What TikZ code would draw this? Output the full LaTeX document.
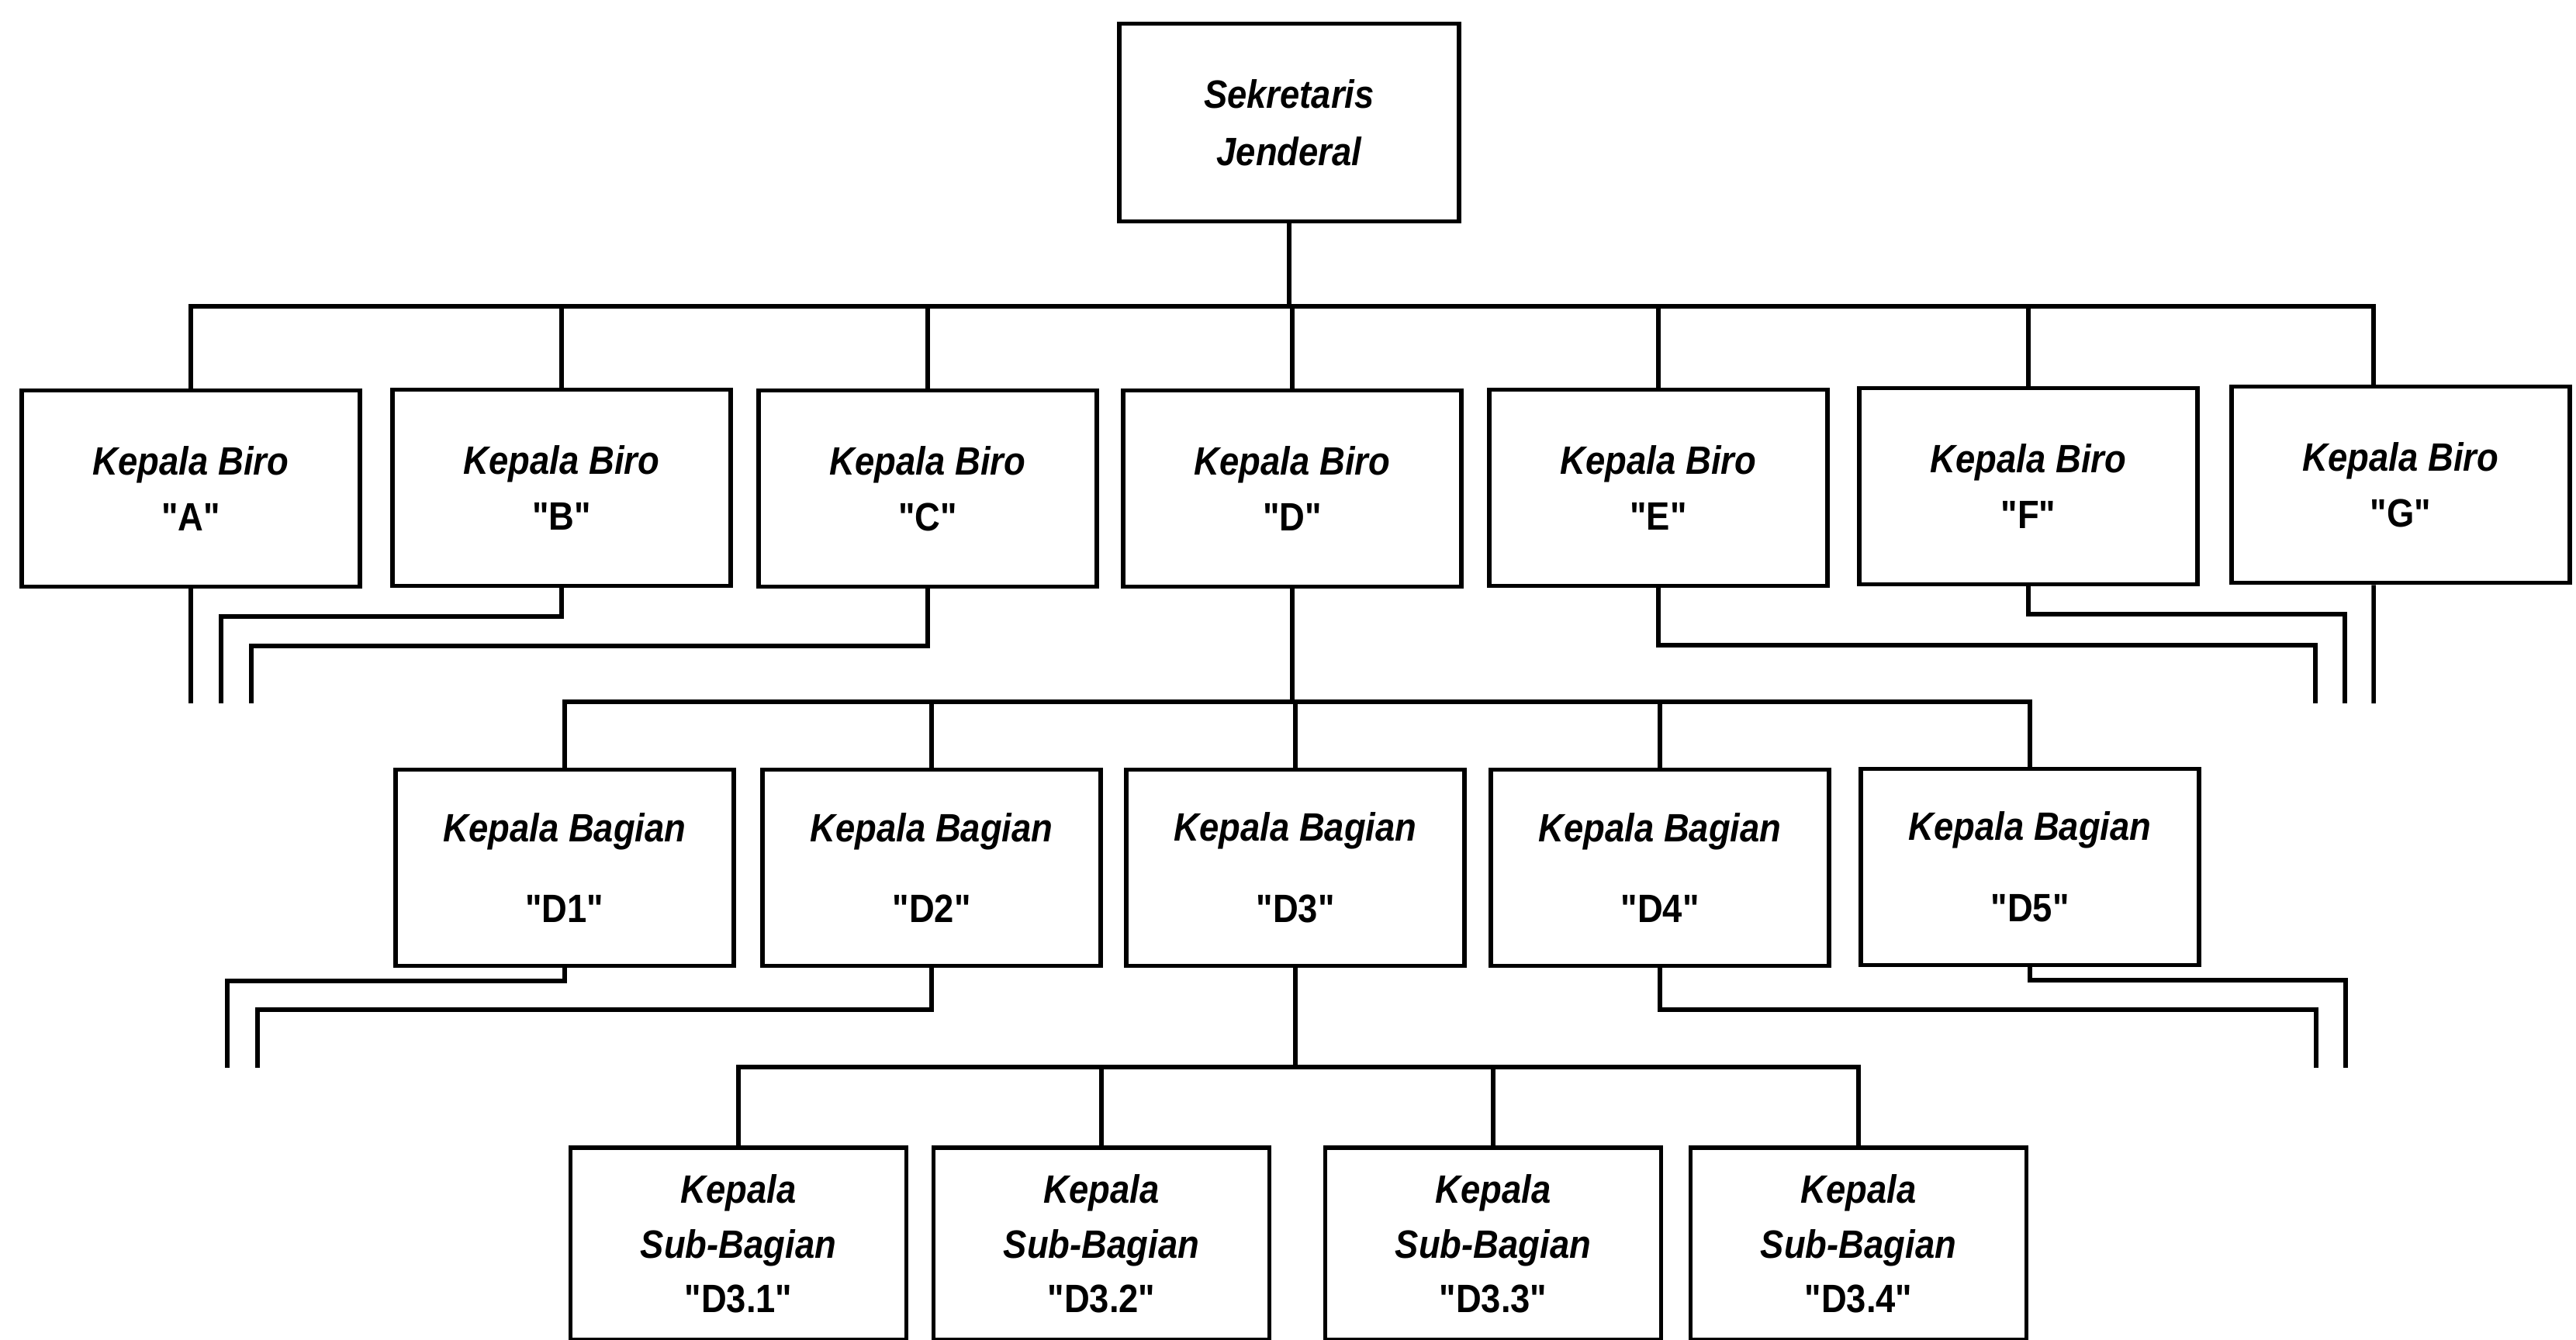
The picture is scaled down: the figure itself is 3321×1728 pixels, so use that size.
\documentclass[tikz,border=0pt]{standalone}
\usepackage{fontspec}
\newfontfamily\orgfont{Liberation Sans}[FakeStretch=0.89]
\begin{document}
\begin{tikzpicture}[x=0.01cm,y=-0.01cm,
  ln/.style={line width=0.055cm, line join=miter},
  box/.style={draw, line width=0.055cm, inner sep=0pt, align=center,
    minimum width=4.36cm, minimum height=2.53cm},
  subbox/.style={box, minimum width=4.33cm, minimum height=2.48cm},
  ft/.style={font=\orgfont\bfseries\itshape\fontsize{14.5}{#1}\selectfont}]
\useasboundingbox (0,0) rectangle (3321,1728);

% top
\node[box, ft=21, minimum width=4.38cm, minimum height=2.55cm] (sj) at (1662,158) {Sekretaris\\Jenderal};

% row 1
\node[box, ft=20.5] (A) at (246,630) {Kepala Biro\\\upshape"A"};
\node[box, ft=20.5] (B) at (724,629) {Kepala Biro\\\upshape"B"};
\node[box, ft=20.5] (C) at (1196,630) {Kepala Biro\\\upshape"C"};
\node[box, ft=20.5] (D) at (1666,630) {Kepala Biro\\\upshape"D"};
\node[box, ft=20.5] (E) at (2138,629) {Kepala Biro\\\upshape"E"};
\node[box, ft=20.5] (F) at (2615,627) {Kepala Biro\\\upshape"F"};
\node[box, ft=20.5] (G) at (3095,625) {Kepala Biro\\\upshape"G"};

% row 2
\node[box, ft=29.8] (D1) at (728,1119) {Kepala Bagian\\\upshape"D1"};
\node[box, ft=29.8] (D2) at (1201,1119) {Kepala Bagian\\\upshape"D2"};
\node[box, ft=29.8] (D3) at (1670,1119) {Kepala Bagian\\\upshape"D3"};
\node[box, ft=29.8] (D4) at (2140,1119) {Kepala Bagian\\\upshape"D4"};
\node[box, ft=29.8] (D5) at (2617,1118) {Kepala Bagian\\\upshape"D5"};

% row 3
\node[subbox, ft=20] (S1) at (952,1604) {Kepala\\Sub-Bagian\\\upshape"D3.1"};
\node[subbox, ft=20] (S2) at (1420,1604) {Kepala\\Sub-Bagian\\\upshape"D3.2"};
\node[subbox, ft=20] (S3) at (1925,1604) {Kepala\\Sub-Bagian\\\upshape"D3.3"};
\node[subbox, ft=20] (S4) at (2396,1604) {Kepala\\Sub-Bagian\\\upshape"D3.4"};

% bus coordinates
\coordinate (bus1) at (0,395);
\coordinate (bus2) at (0,905);
\coordinate (bus3) at (0,1376);
\coordinate (gtop) at ([xshift=-0.35cm]G.north);
\coordinate (gbot) at ([xshift=-0.35cm]G.south);

% level 1 connectors
\draw[ln] (sj.south) -- (sj.south |- bus1);
\draw[ln] (A.north) |- (gtop |- bus1) -- (gtop);
\foreach \n in {B,C,D,E,F} \draw[ln] (\n.north) -- (\n.north |- bus1);

% free ends below row 1
\coordinate (ea) at (250,907);
\coordinate (eb) at (285,907);
\coordinate (ec) at (324,907);
\coordinate (ee) at (2985,907);
\coordinate (ef) at (3023,907);
\coordinate (eg) at (3060,907);
\draw[ln] (A.south) -- (A.south |- ea);
\draw[ln] (B.south) -- (B.south |- 0,795) -| (eb);
\draw[ln] (C.south) -- (C.south |- 0,833) -| (ec);
\draw[ln] (E.south) -- (E.south |- 0,832) -| (ee);
\draw[ln] (F.south) -- (F.south |- 0,792) -| (ef);
\draw[ln] (gbot) -- (eg);

% level 2 connectors
\draw[ln] (D.south) -- (D.south |- bus2);
\draw[ln] (D1.north) |- (D5.north |- bus2) -- (D5.north);
\foreach \n in {D2,D3,D4} \draw[ln] (\n.north) -- (\n.north |- bus2);

% free ends below row 2
\coordinate (e1) at (293,1377);
\coordinate (e2) at (332,1377);
\coordinate (e4) at (2986,1377);
\coordinate (e5) at (3024,1377);
\draw[ln] (D1.south) -- (D1.south |- 0,1265) -| (e1);
\draw[ln] (D2.south) -- (D2.south |- 0,1302) -| (e2);
\draw[ln] (D4.south) -- (D4.south |- 0,1302) -| (e4);
\draw[ln] (D5.south) -- (D5.south |- 0,1264) -| (e5);

% level 3 connectors
\draw[ln] (D3.south) -- (D3.south |- bus3);
\draw[ln] (S1.north) |- (S4.north |- bus3) -- (S4.north);
\foreach \n in {S2,S3} \draw[ln] (\n.north) -- (\n.north |- bus3);
\end{tikzpicture}
\end{document}
